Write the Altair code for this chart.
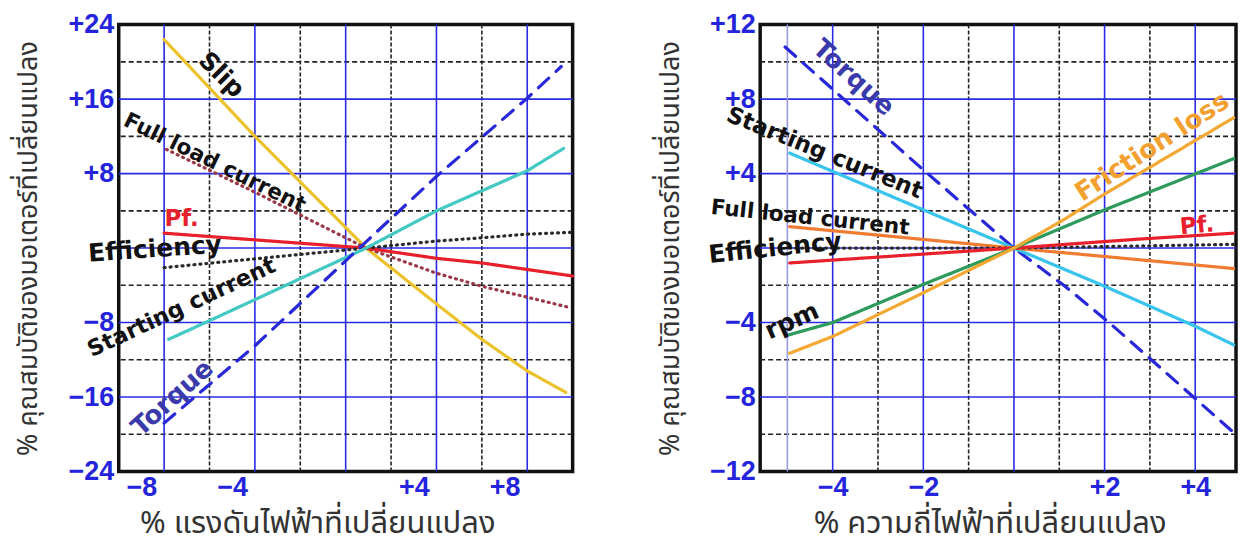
import altair as alt
import pandas as pd

# ---------------- data: left panel (voltage change) ----------------
L_NAMES = ["Slip", "Full load current", "Pf.", "Efficiency", "Starting current", "Torque"]
L_X = [
    [-7, -3, 1.9, 5, 7, 9, 10.7],
    [-6.9, -3, 1.9, 5, 7, 10.9],
    [-7, 1.9, 5, 7, 9, 11],
    [-7, 1.9, 5, 7, 9, 11],
    [-6.8, -5, 1.9, 5, 9, 10.6],
    [-7, -3, 1.6, 5, 9, 10.5],
]
L_Y = [
    [22.4, 12.0, 0, -6.0, -9.8, -13.2, -15.5],
    [10.6, 6.0, 0, -2.7, -4.1, -6.4],
    [1.6, 0, -1.1, -1.6, -2.3, -3.0],
    [-2.1, 0, 0.75, 1.1, 1.5, 1.7],
    [-9.8, -7.8, 0, 4.0, 8.3, 10.7],
    [-18.8, -10.5, 0, 7.7, 16.1, 19.5],
]
L_LABELS = ["Slip", "Full load current", "Pf.", "Efficiency", "Starting current", "Torque"]
L_LAB_X = [-4.47, -4.78, -6.23, -7.4, -6.23, -6.63]
L_LAB_Y = [18.6, 9.1, 3.1, -0.1, -6.4, -16.1]
L_XDOMAIN = [-9, 11]
L_YDOMAIN = [-24, 24]
L_XTICKS = [-8, -4, 4, 8]
L_YTICKS = [-24, -16, -8, 8, 16, 24]
L_GRID_V_BLUE = [-7, -3, 1, 5, 9]
L_GRID_V_DASH = [-5, -1, 3, 7]
L_GRID_V_LIGHT = []
L_GRID_H_BLUE = [-16, -8, 0, 8, 16]
L_GRID_H_DASH = [-20, -12, -4, 4, 12, 20]
L_XTITLE = "% แรงดันไฟฟ้าที่เปลี่ยนแปลง"

# ---------------- data: right panel (frequency change) ----------------
R_NAMES = ["Torque", "Starting current", "Full load current", "Efficiency", "Pf.", "rpm", "Friction loss"]
R_X = [
    [-5.05, -2, 0, 1.1, 2.1, 4.8],
    [-4.95, -2, 0, 2, 4, 4.85],
    [-4.95, 0, 4.85],
    [-4.95, 0, 4.85],
    [-4.95, 0, 2.75, 4.85],
    [-4.95, -4, -2, 0, 2, 4.85],
    [-4.95, -4, -2, 0, 1.05, 2, 4.85],
]
R_Y = [
    [10.8, 4.2, 0, -2.0, -4.0, -9.8],
    [5.1, 2.05, 0, -2.05, -4.2, -5.2],
    [1.15, 0, -1.1],
    [0.0, 0, 0.2],
    [-0.8, 0, 0.48, 0.8],
    [-4.65, -4, -1.95, 0, 2.05, 4.8],
    [-5.65, -4.75, -2.4, 0, 1.45, 2.9, 7.0],
]
R_LABELS = ["Torque", "Starting current", "Full load current", "Efficiency", "rpm", "Friction loss", "Pf."]
R_LAB_X = [-3.54, -4.18, -4.5, -5.27, -4.9, 3.05, 4.04]
R_LAB_Y = [9.14, 5.1, 1.6, 0.0, -3.9, 5.43, 1.2]
R_XDOMAIN = [-5.6, 4.9]
R_YDOMAIN = [-12, 12]
R_XTICKS = [-4, -2, 2, 4]
R_YTICKS = [-12, -8, -4, 4, 8, 12]
R_GRID_V_BLUE = [-4, -2, 0, 2, 4]
R_GRID_V_DASH = [-3, -1, 1, 3]
R_GRID_V_LIGHT = [-5]
R_GRID_H_BLUE = [-8, -4, 0, 4, 8]
R_GRID_H_DASH = [-10, -6, -2, 2, 6, 10]
R_XTITLE = "% ความถี่ไฟฟ้าที่เปลี่ยนแปลง"

Y_TITLE = "% คุณสมบัติของมอเตอร์ที่เปลี่ยนแปลง"

# ---------------- styles ----------------
L_COLORS = ["#ECC22C", "#9A3848", "#E8202C", "#2A2A2A", "#44C8C4", "#2828D8"]
L_DASHES = [[1, 0], [1, 5], [1, 0], [1, 5], [1, 0], [14, 10]]
L_LAB_ANGLE = [45, 26, 0, 356, 335, 318]
L_LAB_COLOR = ["#111111", "#111111", "#E8202C", "#111111", "#111111", "#3A3AAA"]
L_LAB_SIZE = [25, 21.5, 23, 25, 22.5, 26]
L_TITLE_X = 199
R_COLORS = ["#2828D8", "#38C4EC", "#F07C34", "#2A2A2A", "#E8202C", "#2E9A5C", "#F2A832"]
R_DASHES = [[14, 10], [1, 0], [1, 0], [1, 5], [1, 0], [1, 0], [1, 0]]
R_LAB_ANGLE = [42, 22, 6, 354, 336, 327, 355]
R_LAB_COLOR = ["#3A3AAA", "#111111", "#111111", "#111111", "#111111", "#F2A030", "#E8202C"]
R_LAB_SIZE = [26, 23, 21.5, 25, 25, 26, 23]
R_TITLE_X = 230

BLUE = "#2A2AE4"
TICK_BLUE = "#2424DC"
THAI_FONT = "Noto Sans Thai, Noto Sans, DejaVu Sans, sans-serif"


def panel(names, colors, dashes, xs, ys, labels, lab_x, lab_y, lab_ang, lab_col, lab_size,
          xdom, ydom, xticks, yticks, gvb, gvd, gvl, ghb, ghd, xtitle, title_x, width, height):
    xaxis = alt.Axis(values=xticks, labelExpr="datum.value > 0 ? '+' + datum.label : datum.label",
                     grid=False, ticks=False, domain=False, labelFont="Liberation Sans",
                     labelFontWeight="bold", labelFontSize=27, labelColor=TICK_BLUE,
                     labelPadding=3, labelFlush=False, labelOverlap=False,
                     title=xtitle, titleFont=THAI_FONT, titleFontSize=31,
                     titleFontWeight="normal", titleColor="#333333", titlePadding=8,
                     titleX=title_x)
    yaxis = alt.Axis(values=yticks, labelExpr="datum.value > 0 ? '+' + datum.label : datum.label",
                     grid=False, ticks=False, domain=False, labelFont="Liberation Sans",
                     labelFontWeight="bold", labelFontSize=27, labelColor=TICK_BLUE,
                     labelPadding=5, labelFlush=False, labelOverlap=False,
                     minExtent=67, maxExtent=67,
                     title=Y_TITLE, titleFont=THAI_FONT, titleFontSize=27,
                     titleFontWeight="normal", titleColor="#333333", titlePadding=9)
    xs_ = alt.Scale(domain=xdom, nice=False, zero=False)
    ys_ = alt.Scale(domain=ydom, nice=False, zero=False)

    def X(f="x"):
        return alt.X(f + ":Q", scale=xs_, axis=xaxis)

    def Y(f="y"):
        return alt.Y(f + ":Q", scale=ys_, axis=yaxis)

    layers = []
    gh_b = pd.DataFrame({"y": ghb})
    gh_d = pd.DataFrame({"y": ghd})
    gv_b = pd.DataFrame({"x": gvb})
    gv_d = pd.DataFrame({"x": gvd})
    layers.append(alt.Chart(gh_d).mark_rule(color="#222222", strokeWidth=1.6, strokeDash=[5, 3]).encode(y=Y()))
    layers.append(alt.Chart(gv_d).mark_rule(color="#222222", strokeWidth=1.6, strokeDash=[4, 2]).encode(x=X()))
    layers.append(alt.Chart(gh_b).mark_rule(color=BLUE, strokeWidth=1.6).encode(y=Y()))
    layers.append(alt.Chart(gv_b).mark_rule(color=BLUE, strokeWidth=1.6).encode(x=X()))
    if gvl:
        gv_l = pd.DataFrame({"x": gvl})
        layers.append(alt.Chart(gv_l).mark_rule(color="#9A9AE6", strokeWidth=1.6).encode(x=X()))

    rows = []
    for n, xx, yy in zip(names, xs, ys):
        for i, (a, b) in enumerate(zip(xx, yy)):
            rows.append({"series": n, "x": a, "y": b, "o": i})
    df = pd.DataFrame(rows)
    layers.append(
        alt.Chart(df).mark_line(strokeWidth=3.2, strokeCap="round").encode(
            x=X(), y=Y(),
            color=alt.Color("series:N", scale=alt.Scale(domain=names, range=colors), legend=None),
            strokeDash=alt.StrokeDash("series:N", scale=alt.Scale(domain=names, range=dashes), legend=None),
            order="o:Q",
        )
    )
    lab = pd.DataFrame({"t": labels, "x": lab_x, "y": lab_y, "a": lab_ang, "c": lab_col, "s": lab_size})
    layers.append(
        alt.Chart(lab).mark_text(font="DejaVu Sans", fontWeight="bold",
                                 align="center", baseline="middle").encode(
            x=X(), y=Y(), text="t:N",
            angle=alt.Angle("a:Q", scale=None),
            color=alt.Color("c:N", scale=None),
            size=alt.Size("s:Q", scale=None),
        )
    )
    return alt.layer(*layers).properties(width=width, height=height)


left = panel(L_NAMES, L_COLORS, L_DASHES, L_X, L_Y, L_LABELS, L_LAB_X, L_LAB_Y, L_LAB_ANGLE,
             L_LAB_COLOR, L_LAB_SIZE, L_XDOMAIN, L_YDOMAIN, L_XTICKS, L_YTICKS, L_GRID_V_BLUE,
             L_GRID_V_DASH, L_GRID_V_LIGHT, L_GRID_H_BLUE, L_GRID_H_DASH, L_XTITLE, L_TITLE_X,
             455, 448)
right = panel(R_NAMES, R_COLORS, R_DASHES, R_X, R_Y, R_LABELS, R_LAB_X, R_LAB_Y, R_LAB_ANGLE,
              R_LAB_COLOR, R_LAB_SIZE, R_XDOMAIN, R_YDOMAIN, R_XTICKS, R_YTICKS, R_GRID_V_BLUE,
              R_GRID_V_DASH, R_GRID_V_LIGHT, R_GRID_H_BLUE, R_GRID_H_DASH, R_XTITLE, R_TITLE_X,
              477, 448)

chart = alt.hconcat(left, right, spacing=188, bounds="flush").resolve_scale(
    color="independent", strokeDash="independent"
).properties(
    padding={"left": 5, "top": 0, "right": 0, "bottom": 6}
).configure_view(
    stroke="#111111", strokeWidth=3.5
)

chart.save("out.html", embed_options={"renderer": "svg", "actions": False})
